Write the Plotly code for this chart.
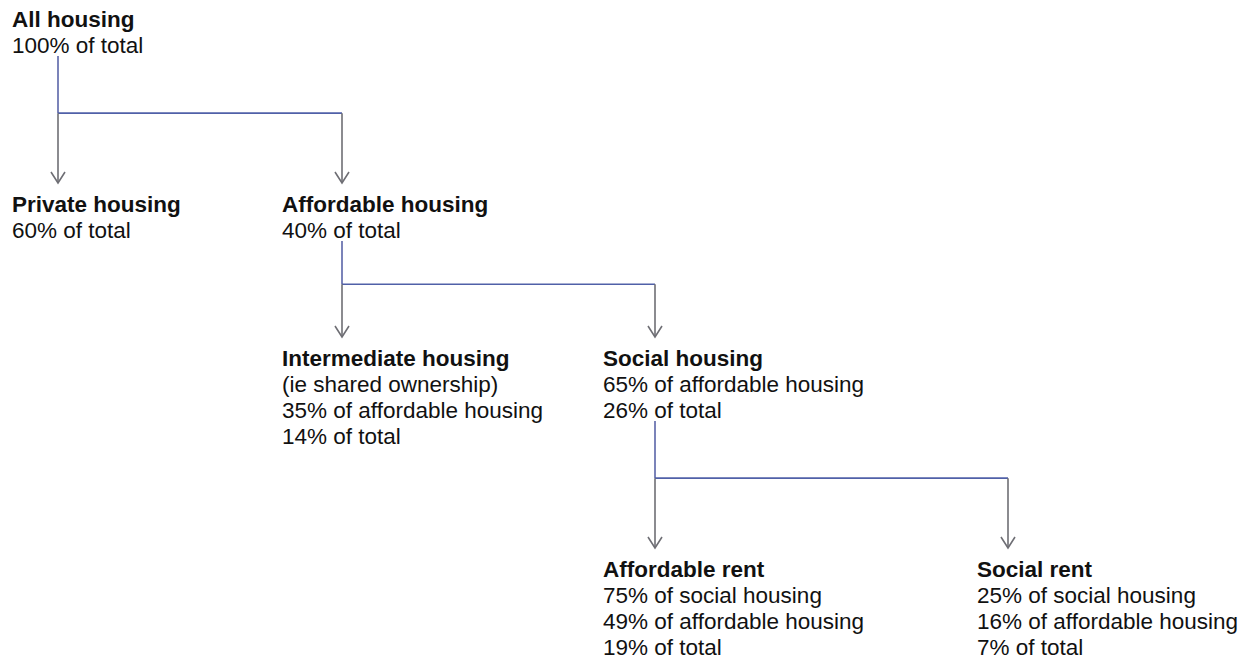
import plotly.graph_objects as go

# ---- data ----
node_titles = ["All housing", "Private housing", "Affordable housing",
               "Intermediate housing", "Social housing", "Affordable rent", "Social rent"]
node_details = [
    ["100% of total"],
    ["60% of total"],
    ["40% of total"],
    ["(ie shared ownership)", "35% of affordable housing", "14% of total"],
    ["65% of affordable housing", "26% of total"],
    ["75% of social housing", "49% of affordable housing", "19% of total"],
    ["25% of social housing", "16% of affordable housing", "7% of total"],
]
node_parent = [None, 0, 0, 2, 2, 4, 4]

# ---- layout (page pixel space) ----
text_x = [12, 12, 282, 282, 603, 603, 977]
title_y = [19, 204, 204, 358, 358, 569, 569]
anchor_x = [58, 58, 342, 342, 655, 655, 1008]
LINE_H = 26
W, H = 1253, 662
OFF = 8  # page body margin
FONT = "Liberation Sans, Arial, sans-serif"
FS = 22.5

stem_col = "#5a64a8"
drop_col = "#6e6e74"
bar_col = "#5060a8"

fig = go.Figure()
annotations = []
shapes = []

for i, t in enumerate(node_titles):
    annotations.append(dict(x=text_x[i] - 1, y=title_y[i], text="<b>" + t + "</b>",
                            xanchor="left", yanchor="middle", showarrow=False, borderpad=0,
                            font=dict(family=FONT, size=FS, color="#111")))
    for k, line in enumerate(node_details[i]):
        annotations.append(dict(x=text_x[i] - 1, y=title_y[i] + LINE_H * (k + 1), text=line,
                                xanchor="left", yanchor="middle", showarrow=False, borderpad=0,
                                font=dict(family=FONT, size=FS, color="#111")))

# connectors
for p in range(len(node_titles)):
    kids = [c for c in range(len(node_titles)) if node_parent[c] == p]
    if not kids:
        continue
    stem_top = title_y[p] + LINE_H * len(node_details[p]) + 11
    kid_top = min(title_y[c] for c in kids) - 21
    branch_y = stem_top + (kid_top - stem_top) * 0.45
    shapes.append(dict(type="line", x0=anchor_x[p], x1=anchor_x[p], y0=stem_top, y1=branch_y,
                       line=dict(color=stem_col, width=1.6)))
    xs = [anchor_x[c] for c in kids]
    shapes.append(dict(type="line", x0=min(xs), x1=max(xs), y0=branch_y, y1=branch_y,
                       line=dict(color=bar_col, width=1.6)))
    for c in kids:
        tip = title_y[c] - 21
        shapes.append(dict(type="line", x0=anchor_x[c], x1=anchor_x[c], y0=branch_y, y1=tip,
                           line=dict(color=drop_col, width=1.6)))
        shapes.append(dict(type="path",
                           path=f"M {anchor_x[c]-7} {tip-11} L {anchor_x[c]} {tip} L {anchor_x[c]+7} {tip-11}",
                           line=dict(color=drop_col, width=1.6)))

fig.update_layout(
    width=W - OFF, height=H - OFF,
    margin=dict(l=0, r=0, t=0, b=0),
    paper_bgcolor="white", plot_bgcolor="white",
    xaxis=dict(range=[OFF, W], visible=False, fixedrange=True),
    yaxis=dict(range=[H, OFF], visible=False, fixedrange=True),
    annotations=annotations, shapes=shapes, showlegend=False,
)
fig.write_html("out.html")
